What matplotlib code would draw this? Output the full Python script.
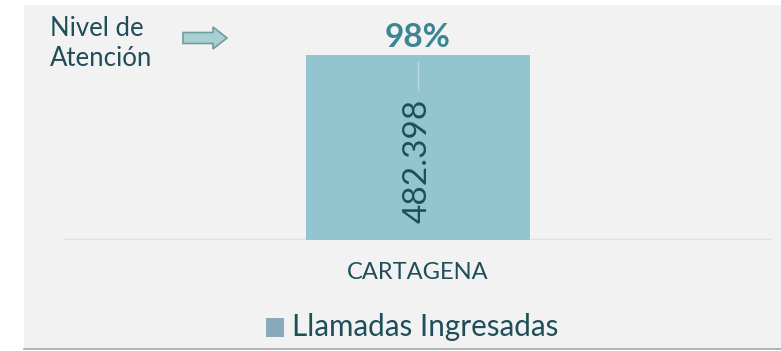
import matplotlib.pyplot as plt
from matplotlib.patches import Rectangle, FancyArrow
from matplotlib.lines import Line2D

# datos
ciudades = ['CARTAGENA']
llamadas = [482398]
nivel_atencion = [98]
serie = 'Llamadas Ingresadas'

W, H = 781, 351
plt.rcParams['font.family'] = ['Lato', 'DejaVu Sans']

fig = plt.figure(figsize=(W / 100, H / 100), dpi=100, facecolor='white')

def fx(px):
    return px / W

def fy(py):
    return 1 - py / H

# fondo gris del gráfico
fig.patches.append(Rectangle((fx(24), fy(348)), fx(W - 24), (348 - 5) / H,
                             transform=fig.transFigure, facecolor='#f2f2f2',
                             edgecolor='none', zorder=-10))
fig.lines.append(Line2D([fx(24), 1], [fy(349), fy(349)], transform=fig.transFigure,
                        color='#a6a6a6', lw=1.2, zorder=-9))

ymax = 600000
bar_top_px, base_px = 55, 240
top_px = base_px - (base_px - bar_top_px) * ymax / llamadas[0]
ax = fig.add_axes([fx(64), fy(base_px), fx(772 - 64), (base_px - top_px) / H])
ax.set_facecolor('none')

color_barra = '#92c5cf'
x = list(range(len(ciudades)))
bars = ax.bar(x, llamadas, width=0.315, color=color_barra, zorder=2)
ax.set_xlim(-0.5, 0.5)
ax.set_ylim(0, ymax)

for s in ax.spines.values():
    s.set_visible(False)
ax.axhline(0, color='#d3e6ea', lw=2.5, zorder=1)
ax.set_yticks([])
ax.set_xticks(x)
ax.set_xticklabels(ciudades, fontsize=17, color='#1f4e5a')
ax.tick_params(axis='x', length=0, pad=16)

texto = '#1f4e5a'
for xi, v, p in zip(x, llamadas, nivel_atencion):
    lbl = f'{v:,}'.replace(',', '.')
    ax.text(xi, v * 0.43, lbl, rotation=90, ha='center', va='center',
            fontsize=24, color=texto, zorder=3)
    ax.plot([xi, xi], [v * 0.81, v * 0.96], color='#b8dbe2', lw=1, zorder=2.5)
    ax.text(xi, v + 0.012 * ymax, f'{p}%', ha='center', va='bottom',
            fontsize=24, fontweight='bold', color='#3b8692')

# Nivel de Atención con flecha
fig.text(fx(50), fy(43), 'Nivel de\nAtención', ha='left', va='center',
         fontsize=18.5, color=texto, linespacing=1.25)
fig.patches.append(FancyArrow(fx(183), fy(38), fx(30), 0, width=11 / H,
                              head_width=22 / H, head_length=fx(14),
                              length_includes_head=False, transform=fig.transFigure,
                              facecolor='#a8cfd2', edgecolor='#6f9c9e', lw=1.2))

# leyenda
fig.patches.append(Rectangle((fx(266), fy(337)), fx(18), 19 / H, transform=fig.transFigure,
                             facecolor='#88aabb', edgecolor='none'))
fig.text(fx(292), fy(327), serie, ha='left', va='center', fontsize=21.3, color=texto)

fig.savefig('out.png', dpi=100, facecolor='white')
